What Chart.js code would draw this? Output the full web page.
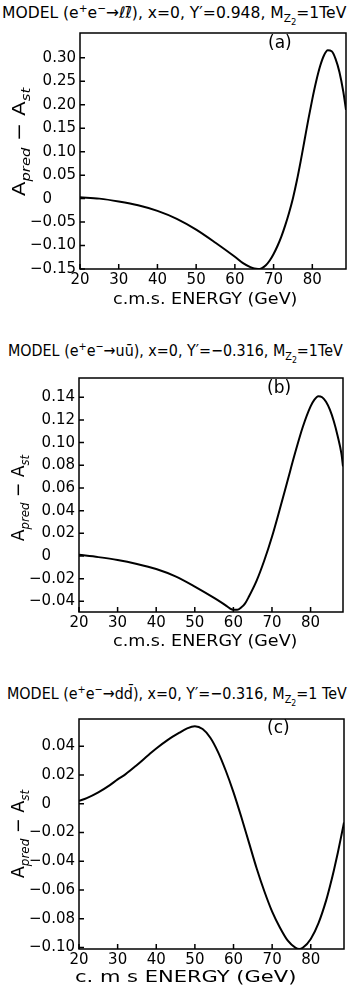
<!DOCTYPE html>
<html>
<head>
<meta charset="utf-8">
<script src="https://cdn.jsdelivr.net/npm/chart.js@4/dist/chart.umd.min.js"></script>
<style>
  body { margin: 0; background: #fff; width: 349px; height: 990px; position: relative; overflow: hidden;
         font-family: "DejaVu Sans", sans-serif; color: #000; }
  .box { position: absolute; left: 0; width: 349px; }
  .txt { position: absolute; white-space: nowrap; font-size: 16px; line-height: 18px; transform-origin: 0 50%; }
  .pl { position: absolute; white-space: nowrap; font-size: 17px; line-height: 18px; }
  .ylab { position: absolute; white-space: nowrap; font-size: 18px; line-height: 20px; }
  sup, sub { font-size: 68%; line-height: 0; }
  sub sub { font-size: 80%; }
</style>
</head>
<body>

<div class="txt" id="titleA" style="left:2px;top:4px">MODEL (e<sup>+</sup>e<sup>−</sup>→ℓℓ̄), x=0, Y′=0.948, M<sub>Z<sub>2</sub></sub>=1TeV</div>
<div class="txt" id="titleB" style="left:8px;top:342px">MODEL (e<sup>+</sup>e<sup>−</sup>→uū), x=0, Y′=−0.316, M<sub>Z<sub>2</sub></sub>=1TeV</div>
<div class="txt" id="titleC" style="left:7px;top:685px">MODEL (e<sup>+</sup>e<sup>−</sup>→dd̄), x=0, Y′=−0.316, M<sub>Z<sub>2</sub></sub>=1 TeV</div>

<div class="box" id="boxA" style="top:20px;height:265px"><canvas id="chartA"></canvas></div>
<div class="box" id="boxB" style="top:365px;height:265px"><canvas id="chartB"></canvas></div>
<div class="box" id="boxC" style="top:706px;height:262px"><canvas id="chartC"></canvas></div>

<div class="pl" style="left:268px;top:33px">(a)</div>
<div class="pl" style="left:267px;top:378px">(b)</div>
<div class="pl" style="left:267px;top:718px">(c)</div>

<div class="txt" id="xlabA" style="left:113px;top:290px">c.m.s. ENERGY (GeV)</div>
<div class="txt" id="xlabB" style="left:113px;top:632px">c.m.s. ENERGY (GeV)</div>
<div class="txt" id="xlabC" style="left:75px;top:968px">c. m s ENERGY (GeV)</div>

<div class="ylab" id="ylabA">A<sub><i>pred</i></sub> − A<sub><i>st</i></sub></div>
<div class="ylab" id="ylabB">A<sub><i>pred</i></sub> − A<sub><i>st</i></sub></div>
<div class="ylab" id="ylabC">A<sub><i>pred</i></sub> − A<sub><i>st</i></sub></div>

<script>
// x tick values shared by all three panels
const energyTicks = [20, 30, 40, 50, 60, 70, 80];

// panel (a): e+e- -> l lbar
const energyA = [20, 25, 30, 35, 40, 45, 50, 55, 60, 62, 64, 65, 66, 67, 68, 69, 70, 71, 72, 73, 74, 75, 76, 77, 78, 79, 80, 81, 82, 83, 84, 85, 86, 87, 88, 88.7];
const asymA   = [0.003, 0.000, -0.006, -0.014, -0.026, -0.043, -0.066, -0.094, -0.124, -0.137, -0.146, -0.149, -0.150, -0.148, -0.142, -0.132, -0.118, -0.101, -0.081, -0.057, -0.030, 0.001, 0.038, 0.080, 0.125, 0.170, 0.212, 0.250, 0.282, 0.305, 0.316, 0.314, 0.298, 0.270, 0.228, 0.189];
const yTicksA  = [-0.15, -0.10, -0.05, 0, 0.05, 0.10, 0.15, 0.20, 0.25, 0.30];
const yLabelsA = ['−0.15', '−0.10', '−0.05', '0\u2008\u2007\u2007', '0.05', '0.10', '0.15', '0.20', '0.25', '0.30'];

// panel (b): e+e- -> u ubar
const energyB = [20, 25, 30, 35, 40, 45, 50, 55, 58, 59, 60, 61, 62, 63, 64, 66, 68, 70, 72, 74, 76, 78, 80, 81, 82, 83, 84, 85, 86, 87, 88, 88.4];
const asymB   = [0.001, -0.001, -0.0035, -0.007, -0.0115, -0.018, -0.027, -0.037, -0.0435, -0.046, -0.0475, -0.0475, -0.0455, -0.042, -0.036, -0.022, -0.004, 0.017, 0.041, 0.066, 0.091, 0.114, 0.132, 0.138, 0.141, 0.140, 0.136, 0.129, 0.119, 0.106, 0.090, 0.079];
const yTicksB  = [-0.04, -0.02, 0, 0.02, 0.04, 0.06, 0.08, 0.10, 0.12, 0.14];
const yLabelsB = ['−0.04', '−0.02', '0\u2008\u2007\u2007', '0.02', '0.04', '0.06', '0.08', '0.10', '0.12', '0.14'];

// panel (c): e+e- -> d dbar
const energyC = [20, 22, 25, 28, 30, 32, 35, 38, 40, 43, 46, 48, 50, 52, 54, 56, 58, 60, 62, 64, 66, 68, 70, 72, 74, 76, 77, 78, 80, 82, 84, 85, 86, 87, 88, 88.6];
const asymC   = [0.002, 0.004, 0.008, 0.013, 0.017, 0.0205, 0.027, 0.034, 0.0385, 0.0445, 0.0495, 0.0525, 0.054, 0.052, 0.046, 0.036, 0.023, 0.008, -0.009, -0.027, -0.045, -0.061, -0.075, -0.086, -0.095, -0.100, -0.101, -0.100, -0.094, -0.083, -0.067, -0.057, -0.046, -0.034, -0.021, -0.013];
const yTicksC  = [-0.10, -0.08, -0.06, -0.04, -0.02, 0, 0.02, 0.04];
const yLabelsC = ['−0.10', '−0.08', '−0.06', '−0.04', '−0.02', '0\u2008\u2007\u2007', '0.02', '0.04'];

const framePlugin = {
  id: 'frame',
  afterDatasetsDraw(chart) {
    const { ctx, chartArea: { left, top, right, bottom }, scales: { x, y } } = chart;
    ctx.save();
    ctx.strokeStyle = '#000';
    ctx.lineWidth = 1.5;
    ctx.strokeRect(left, top, right - left, bottom - top);
    ctx.beginPath();
    x.ticks.forEach(t => {
      const px = x.getPixelForValue(t.value);
      ctx.moveTo(px, bottom); ctx.lineTo(px, bottom - 5);
    });
    y.ticks.forEach(t => {
      const py = y.getPixelForValue(t.value);
      ctx.moveTo(left, py); ctx.lineTo(left + 5, py);
    });
    ctx.stroke();
    ctx.restore();
  }
};

function makePanel(id, xs, ys, yTicks, yLabels, cfg) {
  new Chart(document.getElementById(id), {
    type: 'line',
    data: {
      datasets: [{
        data: xs.map((v, i) => ({ x: v, y: ys[i] })),
        borderColor: '#000',
        borderWidth: 2,
        pointRadius: 0,
        fill: false,
        cubicInterpolationMode: 'monotone'
      }]
    },
    options: {
      responsive: true,
      maintainAspectRatio: false,
      animation: false,
      events: [],
      layout: { padding: { top: cfg.padTop, right: cfg.padRight, left: 0, bottom: 0 } },
      plugins: { legend: { display: false }, tooltip: { enabled: false } },
      scales: {
        x: {
          type: 'linear',
          min: 20,
          max: cfg.xMax,
          grid: { display: false, drawTicks: false, tickLength: 0 },
          border: { display: false },
          afterBuildTicks: s => { s.ticks = energyTicks.map(v => ({ value: v })); },
          afterFit: s => { s.height = cfg.xHeight; },
          ticks: { color: '#000', padding: 2, maxRotation: 0, autoSkip: false,
                   font: { family: 'DejaVu Sans', size: 15 } }
        },
        y: {
          type: 'linear',
          min: cfg.yMin,
          max: cfg.yMax,
          grid: { display: false, drawTicks: false, tickLength: 0 },
          border: { display: false },
          afterBuildTicks: s => { s.ticks = yTicks.map(v => ({ value: v })); },
          afterFit: s => { s.width = cfg.left; },
          ticks: { color: '#000', padding: 4, autoSkip: false,
                   font: { family: 'DejaVu Sans', size: 15 },
                   callback: (v, i) => yLabels[i] }
        }
      }
    },
    plugins: [framePlugin]
  });
}

makePanel('chartA', energyA, asymA, yTicksA, yLabelsA,
  { padTop: 7, padRight: 3, xHeight: 16, left: 80, xMax: 88.7, yMin: -0.15, yMax: 0.353 });
makePanel('chartB', energyB, asymB, yTicksB, yLabelsB,
  { padTop: 5, padRight: 6, xHeight: 18, left: 79, xMax: 88.4, yMin: -0.0494, yMax: 0.157 });
makePanel('chartC', energyC, asymC, yTicksC, yLabelsC,
  { padTop: 6, padRight: 5, xHeight: 19, left: 79, xMax: 88.6, yMin: -0.101, yMax: 0.059 });

function fitWidth(id, w) {
  const el = document.getElementById(id);
  el.style.transform = 'scaleX(' + (w / el.scrollWidth) + ')';
}
fitWidth('titleA', 344);
fitWidth('titleB', 335);
fitWidth('titleC', 340);
fitWidth('xlabA', 185);
fitWidth('xlabB', 185);
fitWidth('xlabC', 222);

function placeYLabel(id, cx, cy, len) {
  const el = document.getElementById(id);
  const w = el.scrollWidth, h = el.scrollHeight;
  el.style.left = (cx - w / 2) + 'px';
  el.style.top = (cy - h / 2) + 'px';
  el.style.transform = 'rotate(-90deg) scaleX(' + (len / w) + ')';
}
placeYLabel('ylabA', 19, 144, 108);
placeYLabel('ylabB', 18, 500, 86);
placeYLabel('ylabC', 18, 836, 88);
</script>
</body>
</html>
